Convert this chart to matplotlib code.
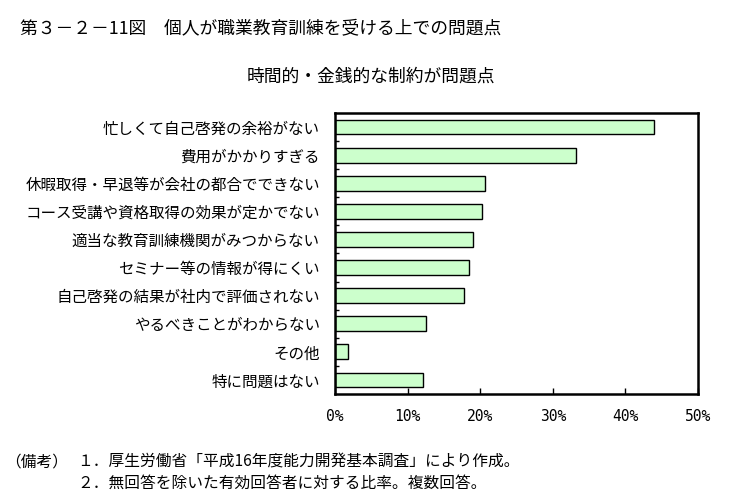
import matplotlib.pyplot as plt
import numpy as np

plt.rcParams['font.family'] = ['Noto Sans CJK JP', 'DejaVu Sans']

# data
categories = [
    "忙しくて自己啓発の余裕がない",
    "費用がかかりすぎる",
    "休暇取得・早退等が会社の都合でできない",
    "コース受講や資格取得の効果が定かでない",
    "適当な教育訓練機関がみつからない",
    "セミナー等の情報が得にくい",
    "自己啓発の結果が社内で評価されない",
    "やるべきことがわからない",
    "その他",
    "特に問題はない",
]
values = [44.0, 33.2, 20.6, 20.3, 19.0, 18.4, 17.7, 12.5, 1.8, 12.1]
x_ticks = [0, 10, 20, 30, 40, 50]
x_labels = ["0%", "10%", "20%", "30%", "40%", "50%"]

W, H = 734, 498
fig = plt.figure(figsize=(W / 100, H / 100), dpi=100)
ax = fig.add_axes([335 / W, 1 - 394 / H, (698 - 335) / W, (394 - 113) / H])

y = np.arange(len(categories))
ax.barh(y, values, height=0.53, color="#ccffcc", edgecolor="black", linewidth=1)

ax.set_xlim(0, 50)
ax.set_ylim(len(categories) - 0.5, -0.5)

ax.set_yticks(y)
ax.set_yticklabels(categories, fontsize=11.2)
ax.tick_params(axis="y", which="major", length=0, pad=11)
ax.set_yticks(y[:-1] + 0.5, minor=True)
ax.tick_params(axis="y", which="minor", direction="in", length=3, width=1)

ax.set_xticks(x_ticks)
ax.set_xticklabels(x_labels, fontsize=10.5, family=["DejaVu Sans Mono"])
ax.tick_params(axis="x", direction="in", length=4, width=1, pad=11)

for s in ax.spines.values():
    s.set_linewidth(1.8)

fig.text(20 / W, 1 - 28 / H, "第３－２－11図　個人が職業教育訓練を受ける上での問題点",
         fontsize=12.8, va="center", ha="left")
fig.text(371 / W, 1 - 77 / H, "時間的・金銭的な制約が問題点",
         fontsize=12.8, va="center", ha="center")
fig.text(5 / W, 1 - 462 / H, "（備考）",
         fontsize=11.3, va="center", ha="left")
fig.text(77 / W, 1 - 462 / H, "１．厚生労働省「平成16年度能力開発基本調査」により作成。",
         fontsize=11.3, va="center", ha="left")
fig.text(77 / W, 1 - 483 / H, "２．無回答を除いた有効回答者に対する比率。複数回答。",
         fontsize=11.3, va="center", ha="left")

fig.savefig("out.png", dpi=100)
